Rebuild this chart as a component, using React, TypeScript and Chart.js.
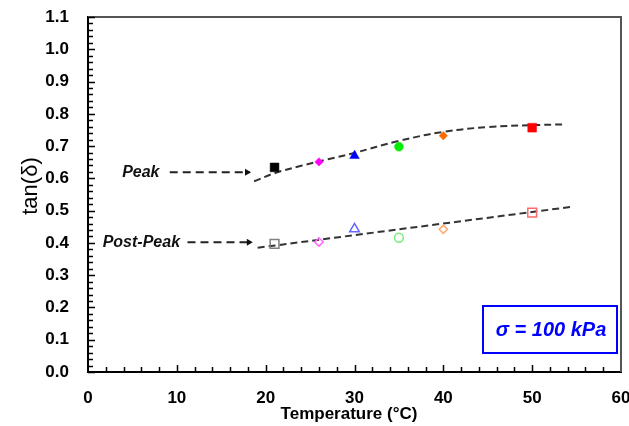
import React, { useEffect, useRef } from 'react';
import { Chart, registerables } from 'chart.js';

Chart.register(...registerables);

// ---- data ----
const temps = [21, 26, 30, 35, 40, 50];
const peakValues = [0.634, 0.651, 0.67, 0.698, 0.732, 0.757];
const postPeakValues = [0.397, 0.403, 0.443, 0.416, 0.442, 0.494];
const markerStyles = ['rect', 'rectRot', 'triangle', 'circle', 'rectRot', 'rect'];
const markerRadii = [6.2, 4.2, 5.6, 4.4, 4.2, 6.2];
const peakColors = ['#000000', '#ff00ff', '#0000ff', '#00ee00', '#ff6a00', '#ff0000'];
const postPeakColors = ['#7f7f7f', '#ff66ff', '#6666ff', '#77ee77', '#ffaa70', '#ff6b6b'];

const peakFitX = [18.7, 21, 24, 27, 30, 35, 40, 45, 50, 53.5];
const peakFitY = [0.591, 0.616, 0.639, 0.659, 0.679, 0.716, 0.744, 0.759, 0.765, 0.767];
const postFitX = [19.1, 54.5];
const postFitY = [0.385, 0.512];

const peakArrowX = [9.2, 18.2];
const peakArrowY = 0.619;
const postArrowX = [11.2, 18.4];
const postArrowY = 0.402;
const arrowHeadX = [17.9, 18.1];
const arrowHeadY = [peakArrowY, postArrowY];

const labelTexts = ['Peak', 'Post-Peak'];
const labelRightX = [8.05, 10.36];
const labelY = [peakArrowY, postArrowY];

const xMin = 0, xMax = 60, xMajor = 10, xMinor = 2;
const yMin = 0, yMax = 1.1, yMajor = 0.1, yMinor = 0.02;

const xTitle = 'Temperature (°C)';
const yTitle = 'tan(δ)';
const boxText = 'σ = 100 kPa';

const FONT = '"Liberation Sans", Arial, sans-serif';

const decorPlugin = {
  id: 'decor',
  afterDraw(chart: any) {
    const { ctx, chartArea, scales } = chart;
    const xs = scales.x, ys = scales.y;
    ctx.save();
    // top & right frame
    ctx.strokeStyle = '#555555';
    ctx.lineWidth = 2;
    ctx.beginPath();
    ctx.moveTo(chartArea.left, chartArea.top);
    ctx.lineTo(chartArea.right, chartArea.top);
    ctx.lineTo(chartArea.right, chartArea.bottom);
    ctx.stroke();

    // inward ticks
    ctx.strokeStyle = '#000';
    ctx.lineWidth = 1.5;
    ctx.beginPath();
    const nY = Math.round((yMax - yMin) / yMinor);
    for (let i = 0; i <= nY; i++) {
      const v = yMin + i * yMinor;
      const major = i % Math.round(yMajor / yMinor) === 0;
      const py = Math.round(ys.getPixelForValue(v)) + 0.5;
      ctx.moveTo(chartArea.left, py);
      ctx.lineTo(chartArea.left + (major ? 7 : 5), py);
    }
    const nX = Math.round((xMax - xMin) / xMinor);
    for (let i = 1; i < nX; i++) {
      const v = xMin + i * xMinor;
      const major = i % Math.round(xMajor / xMinor) === 0;
      const px = Math.round(xs.getPixelForValue(v)) + 0.5;
      ctx.moveTo(px, chartArea.bottom);
      ctx.lineTo(px, chartArea.bottom - (major ? 7 : 5));
    }
    ctx.stroke();

    // axis titles
    ctx.fillStyle = '#000';
    ctx.font = `bold 17px ${FONT}`;
    ctx.textAlign = 'center';
    ctx.textBaseline = 'middle';
    ctx.fillText(xTitle, 349, chartArea.bottom + 42);
    ctx.save();
    ctx.translate(31, 186);
    ctx.rotate(-Math.PI / 2);
    ctx.font = `22px ${FONT}`;
    ctx.fillText(yTitle, 0, 0);
    ctx.restore();

    // arrow labels
    ctx.font = `italic bold 16px ${FONT}`;
    ctx.textAlign = 'right';
    ctx.fillStyle = '#111';
    for (let i = 0; i < labelTexts.length; i++) {
      ctx.fillText(labelTexts[i], xs.getPixelForValue(labelRightX[i]), ys.getPixelForValue(labelY[i]));
    }

    // sigma box
    const bx = chartArea.right - 138, by = chartArea.bottom - 66, bw = 134, bh = 47;
    ctx.strokeStyle = '#0000ff';
    ctx.lineWidth = 2;
    ctx.strokeRect(bx, by, bw, bh);
    ctx.fillStyle = '#0000ff';
    ctx.font = `italic bold 20px ${FONT}`;
    ctx.textAlign = 'center';
    ctx.fillText(boxText, bx + bw / 2 + 1, by + bh / 2 + 1);
    ctx.restore();
  },
};

export default function App() {
  const ref = useRef<HTMLCanvasElement | null>(null);
  useEffect(() => {
    if (!ref.current) return;
    const fitLine = {
      borderColor: '#333333',
      borderWidth: 2,
      borderDash: [7, 4],
      pointRadius: 0,
      showLine: true,
      fill: false,
    };
    const chart = new Chart(ref.current, {
      type: 'scatter',
      data: {
        datasets: [
          {
            label: 'Peak',
            data: temps.map((t, i) => ({ x: t, y: peakValues[i] })),
            pointStyle: markerStyles as any,
            pointRadius: markerRadii,
            backgroundColor: peakColors,
            borderColor: peakColors,
            borderWidth: 0.5,
          },
          {
            label: 'Post-Peak',
            data: temps.map((t, i) => ({ x: t, y: postPeakValues[i] })),
            pointStyle: markerStyles as any,
            pointRadius: markerRadii,
            backgroundColor: 'rgba(255,255,255,0)',
            borderColor: postPeakColors,
            borderWidth: 1.5,
          },
          {
            label: 'heads',
            data: arrowHeadX.map((x, i) => ({ x, y: arrowHeadY[i] })),
            pointStyle: 'triangle',
            rotation: 90,
            pointRadius: 4,
            backgroundColor: '#111',
            borderColor: '#111',
            borderWidth: 0,
          },
          {
            ...fitLine,
            label: 'peakFit',
            data: peakFitX.map((x, i) => ({ x, y: peakFitY[i] })),
            tension: 0.4,
          },
          {
            ...fitLine,
            label: 'postFit',
            data: postFitX.map((x, i) => ({ x, y: postFitY[i] })),
          },
          {
            ...fitLine,
            borderColor: '#222',
            borderDash: [8, 5],
            label: 'peakArrow',
            data: peakArrowX.map((x) => ({ x, y: peakArrowY })),
          },
          {
            ...fitLine,
            borderColor: '#222',
            borderDash: [8, 5],
            label: 'postArrow',
            data: postArrowX.map((x) => ({ x, y: postArrowY })),
          },
        ] as any,
      },
      options: {
        animation: false,
        responsive: false,
        devicePixelRatio: 1,
        layout: { padding: { left: 0, right: 8, top: 17, bottom: 0 } },
        plugins: { legend: { display: false }, tooltip: { enabled: false } },
        scales: {
          x: {
            type: 'linear',
            min: xMin,
            max: xMax,
            ticks: {
              stepSize: xMajor,
              padding: 16,
              color: '#000',
              font: { family: FONT, size: 17, weight: 'bold' },
              maxRotation: 0,
            },
            grid: { display: false, drawTicks: false },
            border: { display: true, color: '#000', width: 2 },
            afterFit: (s: any) => {
              s.height = 54;
              s.paddingLeft = 0;
              s.paddingRight = 0;
            },
          },
          y: {
            type: 'linear',
            min: yMin,
            max: yMax,
            ticks: {
              stepSize: yMajor,
              padding: 19,
              color: '#000',
              font: { family: FONT, size: 17, weight: 'bold' },
              callback: (v: any) => Number(v).toFixed(1),
            },
            grid: { display: false, drawTicks: false },
            border: { display: true, color: '#000', width: 2 },
            afterFit: (s: any) => {
              s.width = 88;
              s.paddingTop = 0;
              s.paddingBottom = 0;
            },
          },
        },
      } as any,
      plugins: [decorPlugin],
    });
    return () => chart.destroy();
  }, []);
  return (
    <div style={{ position: 'fixed', left: 0, top: 0, width: 629, height: 426, background: '#fff' }}>
      <canvas ref={ref} width={629} height={426} />
    </div>
  );
}
